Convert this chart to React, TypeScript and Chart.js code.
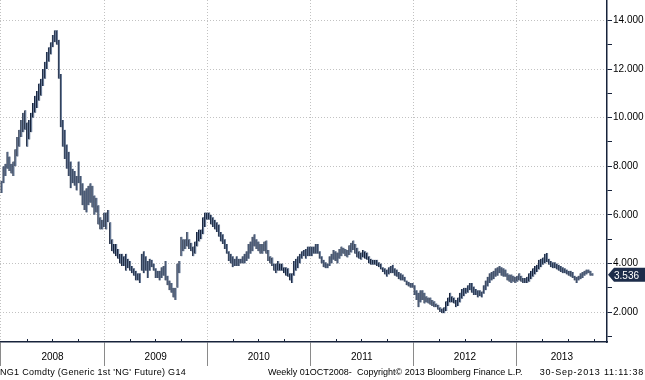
import React, { useEffect, useRef } from 'react';
import { Chart, registerables } from 'chart.js';

Chart.register(...registerables);

// Weekly low / high of NG1 Comdty, week 0 = week ending 4 Jan 2008
const lo2008 = [6.9,7.3,7.6,7.9,7.8,7.7,7.6,8.0,8.4,8.8,9.2,9.4,9.5,8.8,9.1,9.4,10.0,10.2,10.4,10.7,10.9,11.3,11.6,12.0,12.3,12.6,12.9,13.1,13.0,11.6,9.6,8.8,8.3,7.9,7.6,7.1,7.3,7.2,7.0,7.3,6.8,6.4,6.2,6.1,6.4,6.5,6.3,6.0,6.1,5.6,5.4,5.4,5.5];
const hi2008 = [7.4,8.0,8.1,8.6,8.4,8.1,8.2,8.7,9.2,9.5,9.9,10.2,10.3,9.8,9.9,10.2,10.6,10.9,11.1,11.4,11.6,12.0,12.3,12.7,12.9,13.1,13.4,13.6,13.6,13.2,11.8,9.9,9.5,8.9,8.6,8.2,7.9,7.8,7.6,8.2,7.6,7.3,7.0,7.1,7.2,7.3,7.2,6.8,6.7,6.4,5.9,5.8,6.1];
const lo2009 = [5.4,5.7,4.8,4.5,4.4,4.3,4.2,4.0,3.9,3.9,3.7,3.8,3.7,3.6,3.5,3.3,3.3,3.2,3.7,3.6,3.7,3.4,3.7,3.85,3.7,3.4,3.4,3.3,3.4,3.5,3.3,3.1,2.9,2.8,2.6,2.5,3.0,3.6,4.3,4.5,4.6,4.7,4.6,4.5,4.3,4.4,4.7,4.9,5.0,5.2,5.5,5.8];
const hi2009 = [6.1,6.2,5.7,5.0,4.8,4.8,4.6,4.4,4.4,4.3,4.4,4.2,4.1,3.9,3.8,3.7,3.6,3.6,4.4,4.5,4.3,4.1,4.2,4.15,4.0,3.8,3.7,3.7,3.85,3.9,4.1,3.5,3.3,3.2,3.0,3.0,4.0,4.1,5.1,5.0,5.0,5.3,5.0,4.85,4.7,4.9,5.3,5.4,5.4,5.9,6.1,6.1];
const lo2010 = [5.8,5.6,5.5,5.4,5.3,5.1,4.9,4.8,4.6,4.4,4.1,4.0,3.85,3.9,3.9,3.9,4.0,4.0,4.0,4.1,4.2,4.4,4.5,4.7,4.6,4.5,4.4,4.4,4.5,4.4,4.1,4.0,3.9,3.7,3.6,3.7,3.7,3.7,3.6,3.5,3.45,3.3,3.2,3.5,3.7,3.8,4.0,4.2,4.3,4.2,4.3,4.3];
const hi2010 = [6.1,6.0,5.9,5.8,5.7,5.6,5.3,5.2,5.0,4.8,4.5,4.4,4.3,4.2,4.3,4.2,4.2,4.3,4.4,4.5,4.8,4.9,5.1,5.2,5.0,4.9,4.8,4.8,4.9,4.95,4.55,4.3,4.25,4.0,4.0,4.1,4.0,4.0,3.85,3.85,3.8,3.6,3.6,4.1,4.2,4.3,4.4,4.5,4.55,4.6,4.7,4.7];
const lo2011 = [4.3,4.4,4.4,4.4,4.2,4.0,3.85,3.8,3.8,3.9,4.0,4.15,4.1,4.0,4.2,4.3,4.4,4.3,4.25,4.35,4.45,4.55,4.4,4.25,4.2,4.15,4.25,4.2,4.15,4.0,3.95,3.95,3.95,3.9,3.85,3.75,3.65,3.55,3.45,3.55,3.6,3.6,3.5,3.45,3.35,3.3,3.3,3.25,3.1,3.05,3.0,3.0];
const hi2011 = [4.7,4.7,4.8,4.8,4.5,4.3,4.15,4.05,4.0,4.3,4.4,4.55,4.5,4.45,4.6,4.7,4.65,4.6,4.55,4.75,4.85,4.95,4.8,4.65,4.5,4.45,4.55,4.5,4.45,4.3,4.2,4.15,4.15,4.15,4.05,4.0,3.85,3.8,3.75,3.85,3.9,3.95,3.8,3.75,3.65,3.6,3.55,3.45,3.3,3.25,3.2,3.2];
const lo2012 = [2.7,2.5,2.2,2.4,2.5,2.35,2.4,2.35,2.3,2.25,2.2,2.2,2.1,2.0,1.95,1.95,2.05,2.25,2.4,2.4,2.35,2.2,2.25,2.4,2.55,2.65,2.75,2.8,2.9,2.8,2.7,2.7,2.6,2.65,2.6,2.75,2.9,3.05,3.2,3.3,3.35,3.45,3.5,3.6,3.5,3.45,3.45,3.3,3.25,3.2,3.25,3.2];
const hi2012 = [3.1,2.9,2.8,2.9,2.9,2.8,2.65,2.6,2.6,2.5,2.45,2.35,2.3,2.2,2.15,2.2,2.45,2.6,2.8,2.65,2.6,2.5,2.6,2.8,2.95,3.0,3.0,3.1,3.2,3.2,3.05,2.95,2.9,2.9,2.85,3.1,3.3,3.45,3.6,3.65,3.7,3.8,3.85,3.9,3.85,3.8,3.75,3.6,3.55,3.55,3.5,3.45];
const lo2013 = [3.25,3.3,3.25,3.2,3.2,3.2,3.25,3.35,3.45,3.55,3.65,3.75,3.85,3.95,4.0,4.05,3.95,3.85,3.8,3.8,3.75,3.7,3.65,3.6,3.6,3.55,3.5,3.45,3.4,3.3,3.2,3.3,3.35,3.4,3.5,3.55,3.6,3.5,3.5];
const hi2013 = [3.5,3.6,3.5,3.4,3.4,3.45,3.6,3.7,3.8,3.9,3.95,4.15,4.2,4.25,4.4,4.43,4.2,4.1,4.05,4.05,4.0,3.95,3.9,3.85,3.8,3.75,3.7,3.7,3.65,3.5,3.45,3.5,3.6,3.65,3.7,3.75,3.75,3.7,3.6];

const yearLabels = ['2008', '2009', '2010', '2011', '2012', '2013'];
const majorTicks = [2, 4, 6, 8, 10, 12, 14];
const minorTicks = [1, 3, 5, 7, 9, 11, 13];
const lastPrice = 3.536;

const footerLeft = "NG1 Comdty (Generic 1st 'NG' Future) G14";
const footerRange = 'Weekly 01OCT2008-';
const footerCopy = 'Copyright\u00A9 2013 Bloomberg Finance L.P.';
const footerStamp = '30-Sep-2013 11:11:38';

const DAY = 86400000;
const firstWeek = Date.UTC(2008, 0, 4);
const weekOf = (t: number) => (t - firstWeek) / (7 * DAY);
const xMin = weekOf(Date.UTC(2007, 11, 29));
const xMax = weekOf(Date.UTC(2013, 10, 17));

const lows = [...lo2008, ...lo2009, ...lo2010, ...lo2011, ...lo2012, ...lo2013];
const highs = [...hi2008, ...hi2009, ...hi2010, ...hi2011, ...hi2012, ...hi2013];

const FONT = '"Liberation Sans", Arial, sans-serif';
const NAVY = '#17233b';

const axisDecor = {
  id: 'axisDecor',
  afterDraw(chart: any) {
    const { ctx, chartArea, scales } = chart;
    const xs = scales.x;
    const ys = scales.y;
    ctx.save();
    // quarter ticks
    ctx.strokeStyle = NAVY;
    ctx.lineWidth = 1;
    yearLabels.forEach((yl) => {
      const yr = Number(yl);
      [3, 6, 9].forEach((m) => {
        const px = Math.round(xs.getPixelForValue(weekOf(Date.UTC(yr, m, 1)))) + 0.5;
        if (px > chartArea.right) return;
        ctx.beginPath();
        ctx.moveTo(px, chartArea.bottom);
        ctx.lineTo(px, chartArea.bottom - 3);
        ctx.stroke();
      });
    });
    // year labels
    ctx.fillStyle = '#000';
    ctx.font = '10px ' + FONT;
    ctx.textAlign = 'center';
    ctx.textBaseline = 'middle';
    yearLabels.forEach((yl) => {
      const yr = Number(yl);
      const a = Math.max(xs.getPixelForValue(weekOf(Date.UTC(yr, 0, 1))), chartArea.left);
      const b = Math.min(xs.getPixelForValue(weekOf(Date.UTC(yr + 1, 0, 1))), chartArea.right);
      ctx.fillText(yl, (a + b) / 2, chartArea.bottom + 15);
    });
    // last price tag
    const y = ys.getPixelForValue(lastPrice);
    const x0 = chartArea.right + 1;
    const w = chart.width;
    ctx.fillStyle = '#1d2c4a';
    ctx.beginPath();
    ctx.moveTo(x0, y);
    ctx.lineTo(x0 + 6, y - 7);
    ctx.lineTo(w, y - 7);
    ctx.lineTo(w, y + 7);
    ctx.lineTo(x0 + 6, y + 7);
    ctx.closePath();
    ctx.fill();
    ctx.fillStyle = '#fff';
    ctx.textAlign = 'left';
    ctx.fillText(lastPrice.toFixed(3), x0 + 6, y + 1);
    ctx.restore();
  },
};

export default function App() {
  const ref = useRef<HTMLCanvasElement>(null);
  useEffect(() => {
    if (!ref.current) return;
    const bars = lows.map((l, i) => ({ x: i, y: [l, highs[i]] }));
    const yearStarts = yearLabels.map((yl) => weekOf(Date.UTC(Number(yl), 0, 1)));
    const chart = new Chart(ref.current, {
      type: 'bar',
      data: {
        datasets: [
          {
            data: bars as any,
            backgroundColor: '#6a7c98',
            borderColor: '#16223a',
            borderWidth: { left: 1, right: 0, top: 0, bottom: 0 } as any,
            borderSkipped: false,
            barThickness: 2,
            grouped: false,
          },
        ],
      },
      options: {
        responsive: false,
        animation: false,
        layout: { padding: 0 },
        plugins: { legend: { display: false }, tooltip: { enabled: false } },
        scales: {
          x: {
            type: 'linear',
            position: 'bottom',
            offset: false,
            min: xMin,
            max: xMax,
            afterBuildTicks: (s: any) => {
              s.ticks = yearStarts.filter((v) => v >= xMin && v <= xMax).map((v) => ({ value: v }));
            },
            ticks: { display: false },
            grid: { offset: false, color: '#c2c2c2', tickColor: '#8a8a8a', tickLength: 24, lineWidth: 1 },
            border: { color: NAVY, width: 1.5, dash: [1, 2] },
            afterFit: (s: any) => {
              s.height = 38;
              s.paddingLeft = 0;
              s.paddingRight = 0;
            },
          },
          y: {
            type: 'linear',
            position: 'right',
            min: 0.77,
            max: 14.84,
            afterBuildTicks: (s: any) => {
              s.ticks = [...minorTicks, ...majorTicks].sort((a, b) => a - b).map((v) => ({ value: v }));
            },
            ticks: {
              autoSkip: false,
              padding: 1,
              color: '#000',
              font: { family: FONT, size: 10 },
              callback: (v: any) => (majorTicks.includes(Number(v)) ? Number(v).toFixed(3) : ''),
            },
            grid: {
              color: (c: any) => (majorTicks.includes(c.tick?.value) ? '#c2c2c2' : 'rgba(0,0,0,0)'),
              tickColor: NAVY,
              tickLength: 5,
              lineWidth: 1,
            },
            border: { color: NAVY, width: 1.5, dash: [1, 2] },
            afterFit: (s: any) => {
              s.width = 38;
              s.paddingTop = 0;
              s.paddingBottom = 0;
            },
          },
        },
      },
      plugins: [axisDecor],
    });
    return () => chart.destroy();
  }, []);

  const txt: React.CSSProperties = {
    position: 'absolute',
    top: 367,
    fontFamily: FONT,
    fontSize: 9,
    lineHeight: '11px',
    color: '#000',
    whiteSpace: 'nowrap',
  };

  return (
    <div style={{ position: 'fixed', left: 0, top: 0, width: 645, height: 380, background: '#fff', overflow: 'hidden' }}>
      <canvas ref={ref} width={645} height={380} style={{ display: 'block' }} />
      <div style={{ ...txt, left: 0, letterSpacing: 0.3 }}>{footerLeft}</div>
      <div style={{ ...txt, left: 268 }}>{footerRange}</div>
      <div style={{ ...txt, left: 357 }}>{footerCopy}</div>
      <div style={{ ...txt, right: 1, letterSpacing: 0.8 }}>{footerStamp}</div>
    </div>
  );
}
